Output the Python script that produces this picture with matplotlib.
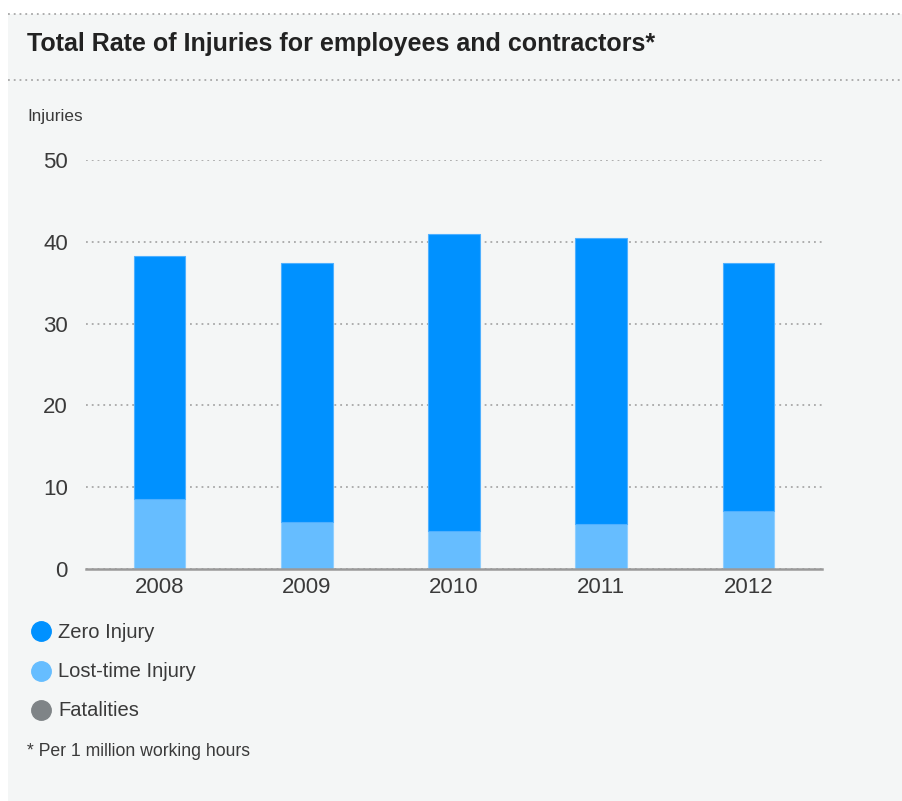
import matplotlib.pyplot as plt
from matplotlib.patches import Rectangle
from matplotlib.lines import Line2D
import numpy as np

years = ['2008', '2009', '2010', '2011', '2012']
lost_time = [8.6, 5.7, 4.6, 5.5, 7.1]
zero_injury = [29.7, 31.7, 36.4, 35.0, 30.3]
fatalities = [0, 0, 0, 0, 0]
yticks = [0, 10, 20, 30, 40, 50]

c_zero = '#0091ff'
c_lost = '#66bdff'
c_fatal = '#7f8487'
panel = '#f4f6f6'
txt = '#3a3a3a'

plt.rcParams['font.family'] = ['Liberation Sans', 'DejaVu Sans']

fig = plt.figure(figsize=(9.02, 8.01), dpi=100)
W, H = 902, 801

# background panel and dotted rules
fig.patches.append(Rectangle((8 / W, 0), 1, 1 - 14 / H, transform=fig.transFigure,
                             facecolor=panel, edgecolor='none', zorder=-5))
for yy in (14, 80):
    fig.add_artist(Line2D([8 / W, 1], [1 - yy / H] * 2, transform=fig.transFigure,
                          color='#a8a8a8', lw=1.3, ls=(0, (1, 2.2))))

fig.text(27 / W, 1 - 44 / H, 'Total Rate of Injuries for employees and contractors*',
         fontsize=18, fontweight='bold', color='#222222', va='center')
fig.text(27 / W, 1 - 117 / H, 'Injuries', fontsize=12.3, color=txt, va='center')

ax = fig.add_axes([86 / W, 232 / H, 736 / W, 409 / H])
ax.set_facecolor('none')
x = np.arange(len(years))
bw = 0.35
ax.bar(x, lost_time, bw, color=c_lost, edgecolor='#8fcfff', lw=0.8, zorder=3)
ax.bar(x, zero_injury, bw, bottom=lost_time, color=c_zero, edgecolor='#4fb0ff',
       lw=0.8, zorder=3)

ax.set_xlim(-0.5, 4.5)
ax.set_ylim(0, 50)
ax.set_yticks(yticks)
ax.set_xticks(x)
ax.set_xticklabels(years)
for s in ('top', 'right', 'left'):
    ax.spines[s].set_visible(False)
ax.spines['bottom'].set_color('#9a9a9a')
ax.spines['bottom'].set_linewidth(1.8)
ax.spines['bottom'].set_zorder(4)
ax.yaxis.grid(True, color='#a8a8a8', lw=1.3, ls=(0, (1, 2.2)))
ax.set_axisbelow(True)
ax.tick_params(length=0, labelsize=16, labelcolor=txt)
ax.tick_params(axis='y', pad=13)
ax.tick_params(axis='x', pad=6)

# legend
items = [('Zero Injury', c_zero), ('Lost-time Injury', c_lost), ('Fatalities', c_fatal)]
for i, (name, col) in enumerate(items):
    yy = 631 + i * 39.5
    fig.add_artist(Line2D([41 / W], [1 - yy / H], marker='o', markersize=14,
                          color=col, transform=fig.transFigure))
    fig.text(58 / W, 1 - (yy + 1) / H, name, fontsize=14.5, color=txt, va='center')

fig.text(27 / W, 1 - 751 / H, '* Per 1 million working hours', fontsize=12.7,
         color=txt, va='center')

fig.savefig('out.png', dpi=100, facecolor='white')
